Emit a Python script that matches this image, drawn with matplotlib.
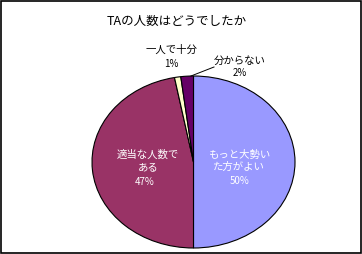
import matplotlib.pyplot as plt

plt.rcParams['font.family'] = ['Noto Sans CJK JP', 'DejaVu Sans']

# data
labels = ['もっと大勢い\nた方がよい', '適当な人数で\nある', '一人で十分', '分からない']
values = [50, 47, 1, 2]
colors = ['#9999FF', '#993366', '#FFFFCC', '#660066']

W, H = 362, 254
fig = plt.figure(figsize=(W / 100, H / 100), dpi=100)

# outer frame
fig.patches.append(plt.Rectangle((0.003, 0.004), 0.994, 0.992, transform=fig.transFigure,
                                 fill=False, edgecolor='black', linewidth=1.2))

# pie drawn as an ellipse by stretching the axes
ax = fig.add_axes([92 / W, (H - 248) / H, 203 / W, 172 / H])
ax.pie(values, colors=colors, startangle=90, counterclock=False,
       wedgeprops=dict(edgecolor='black', linewidth=0.8))
ax.set_xlim(-1, 1)
ax.set_ylim(-1, 1)
ax.set_aspect('auto')
ax.axis('off')

def px(x, y):
    return x / W, 1 - y / H

fig.text(*px(177, 21), 'TAの人数はどうでしたか', ha='center', va='center', fontsize=9)

fig.text(*px(239, 161), labels[0], ha='center', va='center', fontsize=7.5,
         color='white', linespacing=1.3)
fig.text(*px(240, 181), '%d%%' % values[0], ha='center', va='center', fontsize=7,
         color='white')

fig.text(*px(148, 161), labels[1], ha='center', va='center', fontsize=7.5,
         color='white', linespacing=1.3)
fig.text(*px(145, 182), '%d%%' % values[1], ha='center', va='center', fontsize=7,
         color='white')

fig.text(*px(171, 50), labels[2], ha='center', va='center', fontsize=7.5)
fig.text(*px(171, 64), '%d%%' % values[2], ha='center', va='center', fontsize=7)

fig.text(*px(240, 61), labels[3], ha='center', va='center', fontsize=7.5)
fig.text(*px(240, 73), '%d%%' % values[3], ha='center', va='center', fontsize=7)

# leader line for the small slice
x0, y0 = px(191, 76)
x1, y1 = px(214, 67)
fig.add_artist(plt.Line2D([x0, x1], [y0, y1], transform=fig.transFigure,
                          color='black', linewidth=0.7))

fig.savefig('out.png', dpi=100)
